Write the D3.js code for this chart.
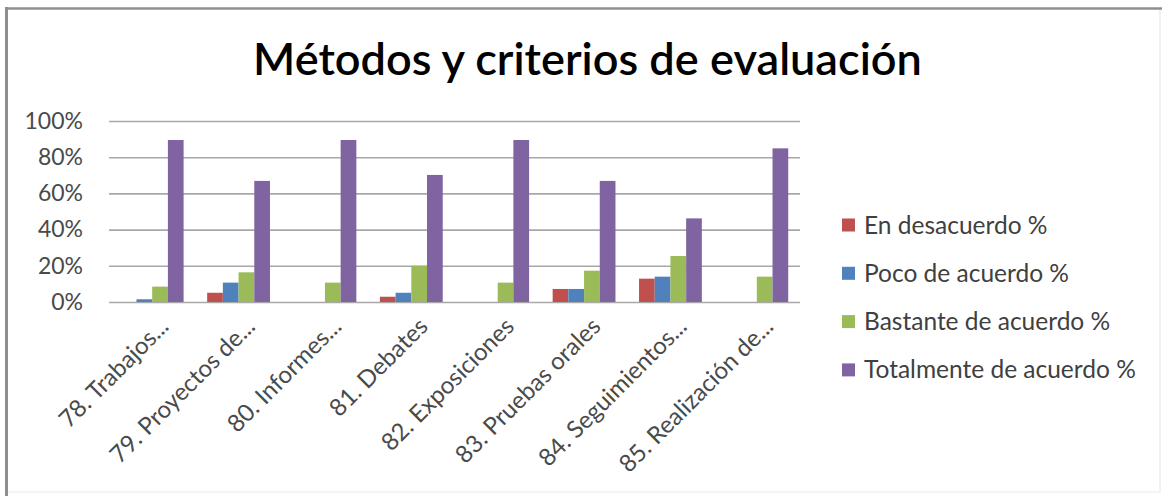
<!DOCTYPE html>
<html>
<head>
<meta charset="utf-8">
<script src="https://cdn.jsdelivr.net/npm/d3@7"></script>
<style>
  html, body { margin: 0; padding: 0; background: #fff; }
  svg { display: block; }
  text { font-family: Lato, "Open Sans", sans-serif; }
</style>
</head>
<body>
<svg id="chart" width="1162" height="496"></svg>
<script>
// Survey items (x-axis categories)
const categories = [
  "78. Trabajos...",
  "79. Proyectos de...",
  "80. Informes...",
  "81. Debates",
  "82. Exposiciones",
  "83. Pruebas orales",
  "84. Seguimientos...",
  "85. Realización de..."
];

// Series names, one per answer level
const seriesNames = [
  "En desacuerdo %",
  "Poco de acuerdo %",
  "Bastante de acuerdo %",
  "Totalmente de acuerdo %"
];

// Percentages per answer level
const enDesacuerdo      = [0,    5.1,  0,    2.9,  0,    7.2,  12.9, 0];
const pocoDeAcuerdo     = [1.5,  10.7, 0,    5.1,  0,    7.2,  14.0, 0];
const bastanteAcuerdo   = [8.5,  16.4, 10.7, 20.0, 10.7, 17.3, 25.4, 14.0];
const totalmenteAcuerdo = [89.5, 66.9, 89.5, 70.2, 89.5, 66.9, 46.2, 84.9];

const yTicks = [0, 20, 40, 60, 80, 100];
const seriesColors = ["#C0504D", "#4F81BD", "#9BBB59", "#8064A2"];

const seriesValues = [enDesacuerdo, pocoDeAcuerdo, bastanteAcuerdo, totalmenteAcuerdo];

const svg = d3.select("#chart");
const W = 1162, H = 496;

// Chart frame
svg.append("rect").attr("x", 0).attr("y", 0).attr("width", W).attr("height", H).attr("fill", "#fff");
svg.append("line").attr("x1", 1160).attr("x2", 1160).attr("y1", 8).attr("y2", 492)
  .attr("stroke", "#ececec").attr("stroke-width", 1.5);
svg.append("line").attr("x1", 6).attr("x2", 1161).attr("y1", 492).attr("y2", 492)
  .attr("stroke", "#f0f0f0").attr("stroke-width", 1.5);
svg.append("line").attr("x1", 5).attr("x2", 1162).attr("y1", 8.5).attr("y2", 8.5)
  .attr("stroke", "#8f8f8f").attr("stroke-width", 2.5);
svg.append("line").attr("x1", 6.5).attr("x2", 6.5).attr("y1", 7).attr("y2", 496)
  .attr("stroke", "#8f8f8f").attr("stroke-width", 3);

// Title, fitted to its width
const title = svg.append("text")
  .attr("x", 587.5).attr("y", 75)
  .attr("text-anchor", "middle")
  .attr("fill", "#000")
  .style("font-weight", 600)
  .style("font-size", "40px")
  .text("Métodos y criterios de evaluación");
{
  const w = title.node().getComputedTextLength();
  title.style("font-size", (40 * 669 / w) + "px");
}

// Plot area
const plot = { left: 109, right: 800, top: 121, bottom: 302 };

// Each category slot is 5.5 bar widths: 4 bars plus a 1.5-bar gap
const x0 = d3.scaleBand()
  .domain(categories)
  .range([plot.left, plot.right])
  .paddingInner(1.5 / 5.5)
  .paddingOuter(0.75 / 5.5);

const x1 = d3.scaleBand()
  .domain(d3.range(seriesNames.length))
  .range([0, x0.bandwidth()])
  .padding(0);

const y = d3.scaleLinear().domain([0, 100]).range([plot.bottom, plot.top]);

// Gridlines
const grid = svg.append("g")
  .attr("transform", `translate(${plot.left},0)`)
  .call(d3.axisLeft(y).tickValues(yTicks).tickSize(-(plot.right - plot.left)).tickFormat(""));
grid.select(".domain").remove();
grid.selectAll(".tick line").attr("stroke", "#a8a8a8").attr("stroke-width", 1.6);

// Y axis labels
const yAxis = svg.append("g")
  .attr("transform", `translate(${plot.left},0)`)
  .call(d3.axisLeft(y).tickValues(yTicks).tickSize(0).tickPadding(26).tickFormat(d => d + "%"));
yAxis.select(".domain").remove();
yAxis.selectAll("text")
  .attr("fill", "#4a4a4a")
  .style("font-family", "Lato, sans-serif")
  .style("font-size", "23px");

// Bars
const groups = svg.append("g").selectAll("g")
  .data(categories)
  .join("g")
  .attr("transform", d => `translate(${x0(d)},0)`);

groups.selectAll("rect")
  .data((d, i) => seriesValues.map((vals, s) => ({ s, v: vals[i] })))
  .join("rect")
  .attr("x", d => x1(d.s))
  .attr("width", x1.bandwidth())
  .attr("y", d => y(d.v))
  .attr("height", d => y(0) - y(d.v))
  .attr("fill", d => seriesColors[d.s]);

// X axis labels, rotated
const xAxis = svg.append("g")
  .attr("transform", `translate(0,${plot.bottom})`)
  .call(d3.axisBottom(x0).tickSize(0).tickPadding(0));
xAxis.select(".domain").remove();
xAxis.selectAll("text")
  .attr("fill", "#4a4a4a")
  .style("font-family", "Lato, sans-serif")
  .style("font-size", "24px")
  .attr("text-anchor", "end")
  .attr("dy", "0.35em")
  .attr("transform", "translate(12,20) rotate(-45)");

// Legend
const legend = svg.append("g").selectAll("g")
  .data(seriesNames)
  .join("g")
  .attr("transform", (d, i) => `translate(842,${225 + i * 48.3})`);
legend.append("rect")
  .attr("x", 0).attr("y", -6.5).attr("width", 13).attr("height", 13)
  .attr("fill", (d, i) => seriesColors[i]);
legend.append("text")
  .attr("x", 22).attr("y", 0).attr("dy", "0.35em")
  .attr("fill", "#404040")
  .style("font-size", "24.5px")
  .text(d => d);
</script>
</body>
</html>
